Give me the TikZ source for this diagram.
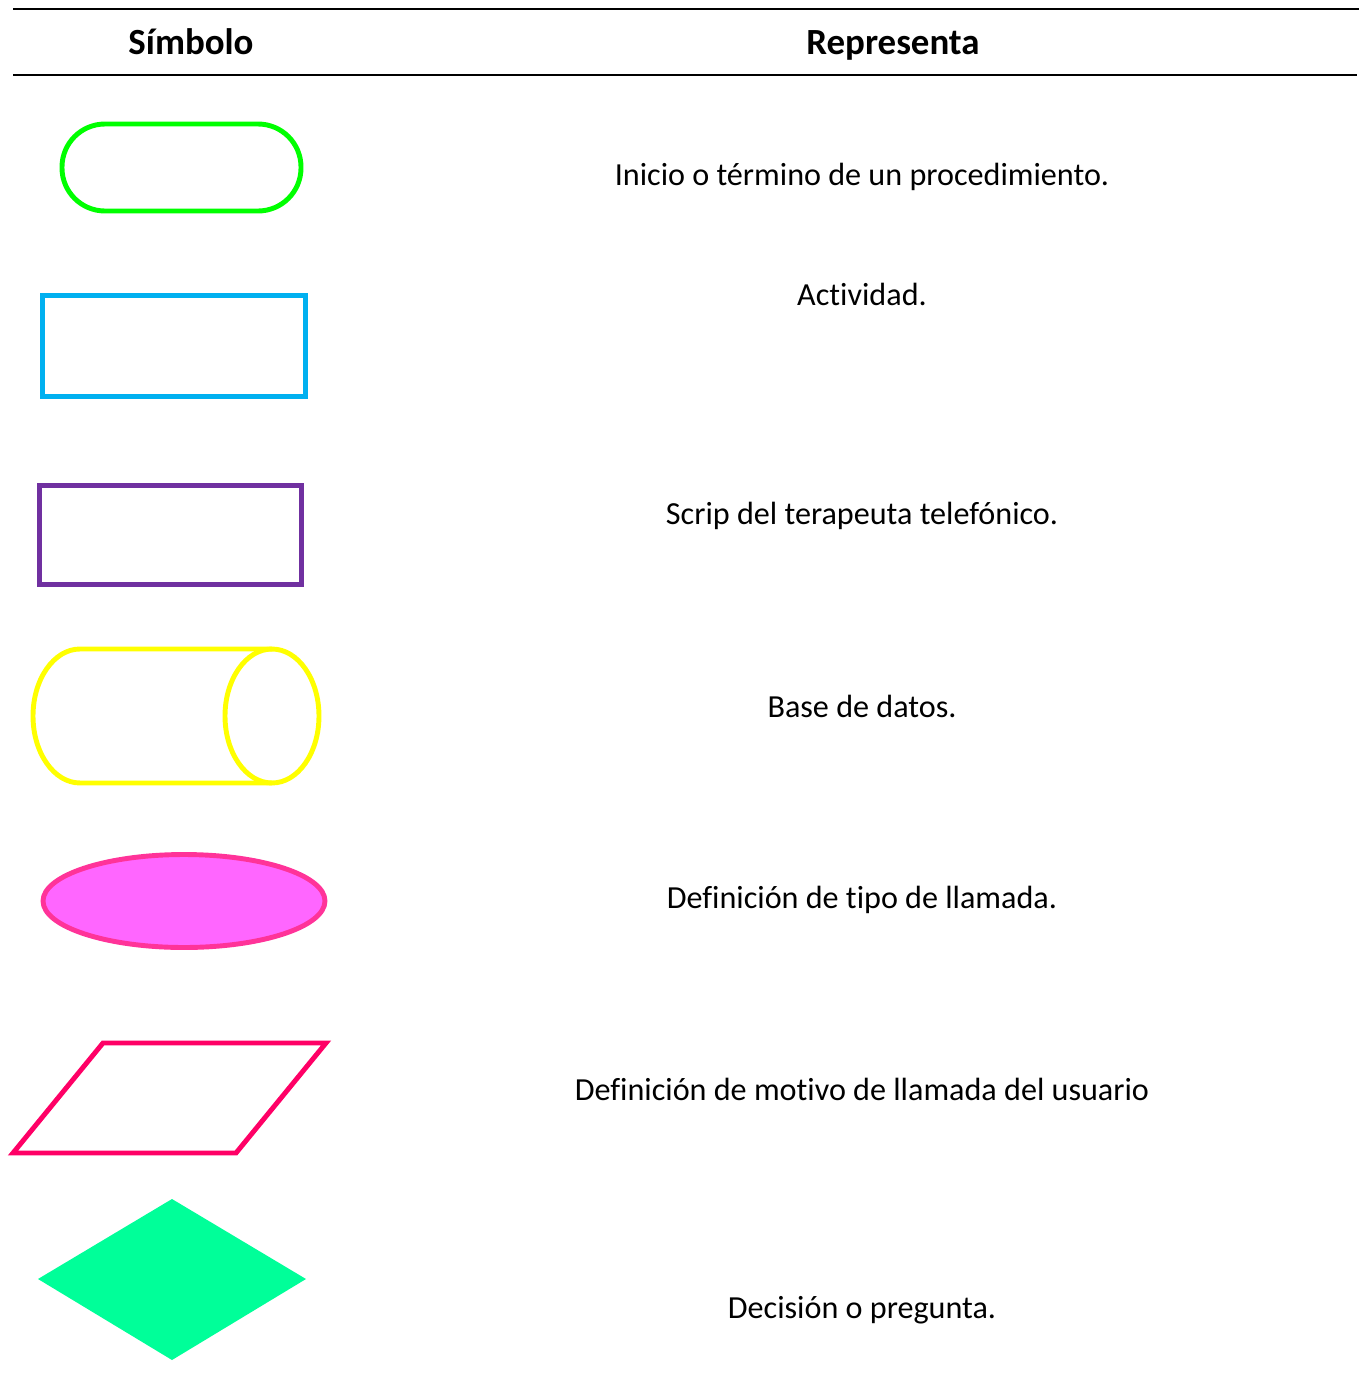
\documentclass[tikz,border=0pt]{standalone}
\usepackage{fontspec}
\setmainfont{Carlito}[Ligatures=NoCommon]
\usepackage{tikz}
\usetikzlibrary{positioning}

\definecolor{TermGreen}{HTML}{00FF00}
\definecolor{ActBlue}{HTML}{00B0F0}
\definecolor{ScripPurple}{HTML}{7030A0}
\definecolor{DBYellow}{HTML}{FFFF00}
\definecolor{CallPink}{HTML}{FF3399}
\definecolor{CallFill}{HTML}{FF66FF}
\definecolor{MotRed}{HTML}{FF0066}
\definecolor{DecGreen}{HTML}{00FF99}

\begin{document}
\begin{tikzpicture}[x=0.02cm, y=-0.02cm]
		\tikzstyle{Rule}	= [line width=1.2pt, black]
		\tikzstyle{Head}	= [font=\bfseries\fontsize{21}{25}\selectfont, anchor=base, inner sep=0pt]
		\tikzstyle{Label}	= [font=\fontsize{18.3}{22}\selectfont, anchor=base, inner sep=0pt]
		\tikzstyle{Symbol}	= [line width=2.8pt]

		\useasboundingbox (0,0) rectangle (1359,1399);

		% table rules
		\coordinate (r1a) at (13,9);
		\coordinate (r1b) at (1359,9);
		\coordinate (r2a) at (13,75);
		\coordinate (r2b) at (1357,75);
		\draw [Rule] (r1a) -- (r1b);
		\draw [Rule] (r2a) -- (r2b);

		% headers
		\node (hSym) at (191,55) [Head] {Símbolo};
		\node (hRep) at (893,55) [Head] {Representa};

		% symbols
		\draw [Symbol, TermGreen, rounded corners=0.86cm] (62,124) rectangle (301,211);
		\draw [Symbol, ActBlue] (42.5,295.5) rectangle (305.5,396.5);
		\draw [Symbol, ScripPurple] (39.5,485.5) rectangle (301.5,584.5);
		\draw [Symbol, DBYellow] (272,649) -- (80,649)
			arc [start angle=90, end angle=270, x radius=0.94cm, y radius=1.34cm] -- (272,783);
		\draw [Symbol, DBYellow] (272,716) ellipse [x radius=0.94cm, y radius=1.34cm];
		\draw [Symbol, CallPink, fill=CallFill] (184,901) ellipse [x radius=2.82cm, y radius=0.93cm];
		\draw [Symbol, MotRed] (13,1153) -- (103,1043) -- (326,1043) -- (236,1153) -- cycle;
		\fill [DecGreen] (38,1279) -- (172,1199) -- (306,1279) -- (172,1360) -- cycle;

		% descriptions
		\node (t1) at (862,185) [Label] {Inicio o término de un procedimiento.};
		\node (t2) at (862,305) [Label] {Actividad.};
		\node (t3) at (862,524) [Label] {Scrip del terapeuta telefónico.};
		\node (t4) at (862,717) [Label] {Base de datos.};
		\node (t5) at (862,908) [Label] {Definición de tipo de llamada.};
		\node (t6) at (862,1100) [Label] {Definición de motivo de llamada del usuario};
		\node (t7) at (862,1318) [Label] {Decisión o pregunta.};
	\end{tikzpicture}
\end{document}
